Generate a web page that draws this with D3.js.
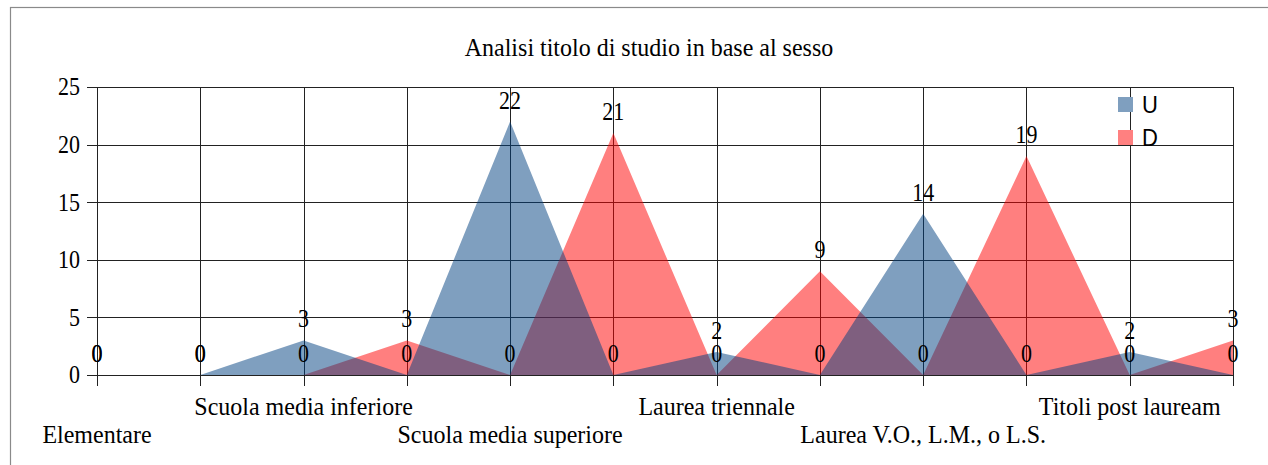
<!DOCTYPE html>
<html><head><meta charset="utf-8">
<script src="https://cdn.jsdelivr.net/npm/d3@7"></script>
<style>
html,body{margin:0;padding:0;background:#fff;}
svg{display:block;}
</style></head>
<body>
<svg id="c" width="1268" height="465"></svg>
<script>
const title = "Analisi titolo di studio in base al sesso";
const categories = ["Elementare","","Scuola media inferiore","","Scuola media superiore","","Laurea triennale","","Laurea V.O., L.M., o L.S.","","Titoli post lauream",""];
const seriesNames = ["U","D"];
const valuesU = [0,0,3,0,22,0,2,0,14,0,2,0];
const valuesD = [0,0,0,3,0,21,0,9,0,19,0,3];
const yTicks = [0,5,10,15,20,25];

const svg = d3.select("#c");
const L = 97, R = 1233, T = 87, B = 375;
const serif = "'Liberation Serif','Times New Roman',serif";
const sans = "'Liberation Sans',Arial,sans-serif";
const K = 1.12;

function stretch(sel, k){
  sel.each(function(){
    const t = d3.select(this);
    const px = +t.attr("x") || 0, py = +t.attr("y") || 0;
    t.attr("transform", `translate(${px},${py}) scale(1,${k}) translate(${-px},${-py})`);
  });
}

const idx = categories.map((d,i)=>i);
const x = d3.scalePoint().domain(idx).range([L,R]);
const y = d3.scaleLinear().domain([0,25]).range([B,T]);

// outer border
svg.append("rect").attr("x",10.5).attr("y",7.5).attr("width",1300).attr("height",500)
  .attr("fill","none").attr("stroke","#8a8a8a").attr("stroke-width",1.2);

// title
svg.append("text").attr("x",649).attr("y",56).attr("text-anchor","middle")
  .attr("font-family",serif).attr("font-size",24).attr("fill","#000").text(title)
  .call(stretch, 1.08);

// grids
const gridY = svg.append("g").attr("transform",`translate(${L},0)`)
  .call(d3.axisLeft(y).tickValues(yTicks).tickSize(-(R-L)).tickFormat(""));
gridY.select(".domain").remove();
gridY.selectAll("line").attr("stroke","#222").attr("shape-rendering","crispEdges");

const gridX = svg.append("g").attr("transform",`translate(0,${B})`)
  .call(d3.axisBottom(x).tickSize(-(B-T)).tickFormat(""));
gridX.select(".domain").remove();
gridX.selectAll("line").attr("stroke","#222").attr("shape-rendering","crispEdges");

// axes ticks
const axY = svg.append("g").attr("transform",`translate(${L},0)`)
  .call(d3.axisLeft(y).tickValues(yTicks).tickSize(10).tickPadding(7));
axY.select(".domain").remove();
axY.selectAll("line").attr("stroke","#222").attr("shape-rendering","crispEdges");
axY.selectAll("text").attr("font-family",serif).attr("font-size",22).attr("fill","#000").call(stretch, K);

const axX = svg.append("g").attr("transform",`translate(0,${B})`)
  .call(d3.axisBottom(x).tickSize(11).tickFormat(""));
axX.select(".domain").remove();
axX.selectAll("line").attr("stroke","#222").attr("shape-rendering","crispEdges");

// areas
const area = d3.area().x((d,i)=>x(i)).y0(y(0)).y1(d=>y(d));
svg.append("path").datum(valuesD).attr("d",area).attr("fill","rgb(255,0,0)").attr("fill-opacity",0.5);
svg.append("path").datum(valuesU).attr("d",area).attr("fill","rgb(0,64,128)").attr("fill-opacity",0.5);

// data labels
[valuesU, valuesD].forEach(vals=>{
  svg.append("g").selectAll("text").data(vals).join("text")
    .attr("x",(d,i)=>x(i)).attr("y",d=>y(d)-13).attr("text-anchor","middle")
    .attr("font-family",serif).attr("font-size",22).attr("fill","#000").text(d=>d)
    .call(stretch, K);
});

// category labels (staggered)
svg.append("g").selectAll("text").data(categories).join("text")
  .attr("x",(d,i)=>x(i)).attr("y",(d,i)=>((i/2)%2===0)?443:415)
  .attr("text-anchor","middle").attr("font-family",serif).attr("font-size",24).attr("fill","#000")
  .text(d=>d).call(stretch, 1.06);

// legend
const legColors = ["rgb(127,159,191)","rgb(255,128,128)"];
const leg = svg.append("g");
seriesNames.forEach((n,i)=>{
  leg.append("rect").attr("x",1118).attr("y",97+i*33).attr("width",15).attr("height",15).attr("fill",legColors[i]);
  leg.append("text").attr("x",1142).attr("y",113+i*33).attr("font-family",sans).attr("font-size",22).attr("fill","#000").text(n)
    .call(stretch, K);
});
</script>
</body></html>
